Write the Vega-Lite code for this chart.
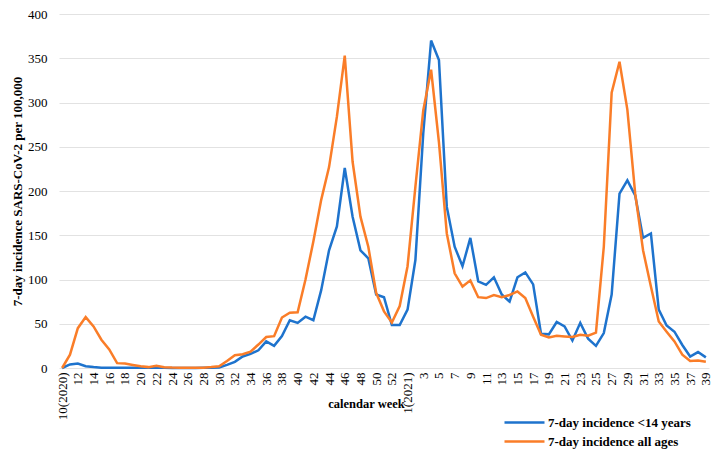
{
  "$schema": "https://vega.github.io/schema/vega-lite/v6.json",
  "width": 650,
  "height": 354,
  "autosize": {"type": "none"},
  "padding": {"left": 59, "top": 14, "right": 13, "bottom": 107},
  "background": "white",
  "config": {
    "view": {"stroke": null},
    "font": "Liberation Serif"
  },
  "data": {
    "values": [
      {"week": "2020-10", "7-day incidence <14 years": 0, "7-day incidence all ages": 0},
      {"week": "2020-11", "7-day incidence <14 years": 4, "7-day incidence all ages": 15},
      {"week": "2020-12", "7-day incidence <14 years": 5, "7-day incidence all ages": 45},
      {"week": "2020-13", "7-day incidence <14 years": 2, "7-day incidence all ages": 57.5},
      {"week": "2020-14", "7-day incidence <14 years": 1, "7-day incidence all ages": 47},
      {"week": "2020-15", "7-day incidence <14 years": 0.3, "7-day incidence all ages": 32},
      {"week": "2020-16", "7-day incidence <14 years": 0.2, "7-day incidence all ages": 21},
      {"week": "2020-17", "7-day incidence <14 years": 0.2, "7-day incidence all ages": 5.5},
      {"week": "2020-18", "7-day incidence <14 years": 0.2, "7-day incidence all ages": 5},
      {"week": "2020-19", "7-day incidence <14 years": 0.2, "7-day incidence all ages": 3.5},
      {"week": "2020-20", "7-day incidence <14 years": 0.2, "7-day incidence all ages": 2},
      {"week": "2020-21", "7-day incidence <14 years": 0.3, "7-day incidence all ages": 1},
      {"week": "2020-22", "7-day incidence <14 years": 0.5, "7-day incidence all ages": 2.5},
      {"week": "2020-23", "7-day incidence <14 years": 0.2, "7-day incidence all ages": 0.8},
      {"week": "2020-24", "7-day incidence <14 years": 0.1, "7-day incidence all ages": 0.5},
      {"week": "2020-25", "7-day incidence <14 years": 0.1, "7-day incidence all ages": 0.4},
      {"week": "2020-26", "7-day incidence <14 years": 0.1, "7-day incidence all ages": 0.3},
      {"week": "2020-27", "7-day incidence <14 years": 0.1, "7-day incidence all ages": 0.3},
      {"week": "2020-28", "7-day incidence <14 years": 0.2, "7-day incidence all ages": 0.4},
      {"week": "2020-29", "7-day incidence <14 years": 0.3, "7-day incidence all ages": 1},
      {"week": "2020-30", "7-day incidence <14 years": 0.6, "7-day incidence all ages": 2},
      {"week": "2020-31", "7-day incidence <14 years": 3.5, "7-day incidence all ages": 8},
      {"week": "2020-32", "7-day incidence <14 years": 7, "7-day incidence all ages": 14.5},
      {"week": "2020-33", "7-day incidence <14 years": 13, "7-day incidence all ages": 15.5},
      {"week": "2020-34", "7-day incidence <14 years": 16, "7-day incidence all ages": 18.5},
      {"week": "2020-35", "7-day incidence <14 years": 20, "7-day incidence all ages": 26.5},
      {"week": "2020-36", "7-day incidence <14 years": 30, "7-day incidence all ages": 35},
      {"week": "2020-37", "7-day incidence <14 years": 25, "7-day incidence all ages": 36},
      {"week": "2020-38", "7-day incidence <14 years": 36, "7-day incidence all ages": 57},
      {"week": "2020-39", "7-day incidence <14 years": 54, "7-day incidence all ages": 62.5},
      {"week": "2020-40", "7-day incidence <14 years": 51, "7-day incidence all ages": 63},
      {"week": "2020-41", "7-day incidence <14 years": 58, "7-day incidence all ages": 100},
      {"week": "2020-42", "7-day incidence <14 years": 54, "7-day incidence all ages": 143},
      {"week": "2020-43", "7-day incidence <14 years": 88, "7-day incidence all ages": 190},
      {"week": "2020-44", "7-day incidence <14 years": 133, "7-day incidence all ages": 227},
      {"week": "2020-45", "7-day incidence <14 years": 160, "7-day incidence all ages": 284},
      {"week": "2020-46", "7-day incidence <14 years": 226, "7-day incidence all ages": 353},
      {"week": "2020-47", "7-day incidence <14 years": 171, "7-day incidence all ages": 233},
      {"week": "2020-48", "7-day incidence <14 years": 133, "7-day incidence all ages": 171},
      {"week": "2020-49", "7-day incidence <14 years": 124, "7-day incidence all ages": 137},
      {"week": "2020-50", "7-day incidence <14 years": 83, "7-day incidence all ages": 85},
      {"week": "2020-51", "7-day incidence <14 years": 80, "7-day incidence all ages": 64},
      {"week": "2020-52", "7-day incidence <14 years": 48.5, "7-day incidence all ages": 51.5},
      {"week": "2020-53", "7-day incidence <14 years": 48.5, "7-day incidence all ages": 70},
      {"week": "2021-1", "7-day incidence <14 years": 66, "7-day incidence all ages": 115},
      {"week": "2021-2", "7-day incidence <14 years": 122, "7-day incidence all ages": 205},
      {"week": "2021-3", "7-day incidence <14 years": 265, "7-day incidence all ages": 291},
      {"week": "2021-4", "7-day incidence <14 years": 370, "7-day incidence all ages": 337},
      {"week": "2021-5", "7-day incidence <14 years": 348, "7-day incidence all ages": 255},
      {"week": "2021-6", "7-day incidence <14 years": 182, "7-day incidence all ages": 152},
      {"week": "2021-7", "7-day incidence <14 years": 137, "7-day incidence all ages": 107},
      {"week": "2021-8", "7-day incidence <14 years": 115, "7-day incidence all ages": 92},
      {"week": "2021-9", "7-day incidence <14 years": 147, "7-day incidence all ages": 99},
      {"week": "2021-10", "7-day incidence <14 years": 98, "7-day incidence all ages": 80},
      {"week": "2021-11", "7-day incidence <14 years": 94, "7-day incidence all ages": 79},
      {"week": "2021-12", "7-day incidence <14 years": 102.5, "7-day incidence all ages": 82.5},
      {"week": "2021-13", "7-day incidence <14 years": 83, "7-day incidence all ages": 80},
      {"week": "2021-14", "7-day incidence <14 years": 75, "7-day incidence all ages": 82.5},
      {"week": "2021-15", "7-day incidence <14 years": 102.5, "7-day incidence all ages": 86.5},
      {"week": "2021-16", "7-day incidence <14 years": 108, "7-day incidence all ages": 79},
      {"week": "2021-17", "7-day incidence <14 years": 94.5, "7-day incidence all ages": 58},
      {"week": "2021-18", "7-day incidence <14 years": 38.7, "7-day incidence all ages": 37.6},
      {"week": "2021-19", "7-day incidence <14 years": 38, "7-day incidence all ages": 34.6},
      {"week": "2021-20", "7-day incidence <14 years": 52, "7-day incidence all ages": 36.5},
      {"week": "2021-21", "7-day incidence <14 years": 47, "7-day incidence all ages": 35.7},
      {"week": "2021-22", "7-day incidence <14 years": 31, "7-day incidence all ages": 35},
      {"week": "2021-23", "7-day incidence <14 years": 51, "7-day incidence all ages": 37.6},
      {"week": "2021-24", "7-day incidence <14 years": 33, "7-day incidence all ages": 36.5},
      {"week": "2021-25", "7-day incidence <14 years": 25, "7-day incidence all ages": 40},
      {"week": "2021-26", "7-day incidence <14 years": 39.5, "7-day incidence all ages": 137},
      {"week": "2021-27", "7-day incidence <14 years": 83, "7-day incidence all ages": 311},
      {"week": "2021-28", "7-day incidence <14 years": 197, "7-day incidence all ages": 346},
      {"week": "2021-29", "7-day incidence <14 years": 212, "7-day incidence all ages": 292},
      {"week": "2021-30", "7-day incidence <14 years": 195, "7-day incidence all ages": 197},
      {"week": "2021-31", "7-day incidence <14 years": 147, "7-day incidence all ages": 133},
      {"week": "2021-32", "7-day incidence <14 years": 152, "7-day incidence all ages": 92},
      {"week": "2021-33", "7-day incidence <14 years": 66, "7-day incidence all ages": 52.5},
      {"week": "2021-34", "7-day incidence <14 years": 48, "7-day incidence all ages": 41},
      {"week": "2021-35", "7-day incidence <14 years": 41, "7-day incidence all ages": 30},
      {"week": "2021-36", "7-day incidence <14 years": 26, "7-day incidence all ages": 15},
      {"week": "2021-37", "7-day incidence <14 years": 13, "7-day incidence all ages": 8},
      {"week": "2021-38", "7-day incidence <14 years": 18, "7-day incidence all ages": 8.5},
      {"week": "2021-39", "7-day incidence <14 years": 12, "7-day incidence all ages": 7}
    ]
  },
  "transform": [
    {"fold": ["7-day incidence <14 years", "7-day incidence all ages"], "as": ["series", "value"]}
  ],
  "mark": {"type": "line", "strokeWidth": 2.5, "strokeJoin": "miter"},
  "encoding": {
    "x": {
      "field": "week",
      "type": "ordinal",
      "sort": null,
      "scale": {"type": "point", "padding": 0.4},
      "axis": {
        "title": "calendar week",
        "titleFont": "Liberation Serif",
        "titleFontSize": 12.5,
        "titleFontWeight": "bold",
        "titleColor": "#000",
        "titleX": 307,
        "titleY": 35,
        "titleAlign": "center",
        "titleBaseline": "middle",
        "labelAngle": -90,
        "labelAlign": "right",
        "labelBaseline": "middle",
        "labelFont": "Liberation Serif",
        "labelFontSize": 13,
        "labelColor": "#000",
        "labelPadding": 4,
        "labelOverlap": false,
        "labelExpr": "substring(datum.value,0,4)=='2020' ? (toNumber(substring(datum.value,5))%2==0 ? (substring(datum.value,5)=='10' ? '10(2020)' : substring(datum.value,5)) : '') : (toNumber(substring(datum.value,5))%2==1 ? (substring(datum.value,5)=='1' ? '1(2021)' : substring(datum.value,5)) : '')",
        "ticks": false,
        "domain": false,
        "grid": false
      }
    },
    "y": {
      "field": "value",
      "type": "quantitative",
      "scale": {"domain": [0, 400], "nice": false},
      "axis": {
        "title": "7-day incidence SARS-CoV-2 per 100,000",
        "titleFont": "Liberation Serif",
        "titleFontSize": 13,
        "titleFontWeight": "bold",
        "titleColor": "#000",
        "titleX": -42,
        "titleY": 177,
        "titleAlign": "center",
        "titleBaseline": "middle",
        "titleAngle": -90,
        "values": [0, 50, 100, 150, 200, 250, 300, 350, 400],
        "labelFont": "Liberation Serif",
        "labelFontSize": 13,
        "labelColor": "#000",
        "labelPadding": 12,
        "ticks": false,
        "domain": false,
        "grid": true,
        "gridColor": "#e2e2e2",
        "gridWidth": 1
      }
    },
    "color": {
      "field": "series",
      "type": "nominal",
      "scale": {
        "domain": ["7-day incidence <14 years", "7-day incidence all ages"],
        "range": ["#1e73cd", "#fa7d28"]
      },
      "legend": {
        "title": null,
        "orient": "none",
        "legendX": 444,
        "legendY": 400,
        "symbolType": "stroke",
        "symbolSize": 1600,
        "symbolStrokeWidth": 2.5,
        "clipHeight": 17,
        "labelFont": "Liberation Serif",
        "labelFontSize": 13,
        "labelFontWeight": "bold",
        "labelColor": "#000",
        "labelOffset": 2,
        "rowPadding": 2
      }
    }
  }
}
